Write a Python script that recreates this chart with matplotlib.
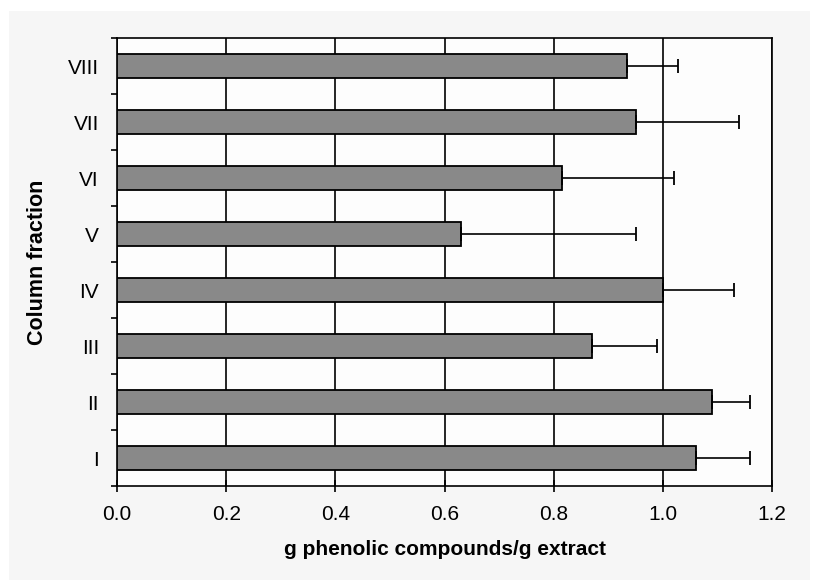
import matplotlib
matplotlib.use("Agg")
import matplotlib.pyplot as plt
from matplotlib import font_manager
from matplotlib.patches import Rectangle

categories = ["I", "II", "III", "IV", "V", "VI", "VII", "VIII"]
values = [1.06, 1.09, 0.87, 1.00, 0.63, 0.815, 0.95, 0.935]
err_upper = [0.10, 0.07, 0.12, 0.13, 0.32, 0.205, 0.19, 0.093]
xticks = [0.0, 0.2, 0.4, 0.6, 0.8, 1.0, 1.2]
xtick_labels = ["0.0", "0.2", "0.4", "0.6", "0.8", "1.0", "1.2"]

names = {f.name for f in font_manager.fontManager.ttflist}
fam = "Liberation Sans Narrow" if "Liberation Sans Narrow" in names else "Liberation Sans"

fig = plt.figure(figsize=(8.19, 5.86), dpi=100, facecolor="white")
fig.patches.append(Rectangle((9 / 819, 6 / 586), 801 / 819, 569 / 586,
                             transform=fig.transFigure, facecolor="#f6f6f6",
                             edgecolor="none", zorder=-10))
ax = fig.add_axes([117 / 819, 1 - 486 / 586, (772 - 117) / 819, (486 - 38) / 586])
ax.set_facecolor("#fdfdfd")

ypos = list(range(len(categories)))
ax.barh(ypos, values, height=0.42, color="#898989", edgecolor="black",
        linewidth=1.3, zorder=3)
ax.errorbar(values, ypos, xerr=[[0] * len(values), err_upper], fmt="none",
            ecolor="black", elinewidth=1.2, capsize=5, capthick=1.3, zorder=4)

ax.set_xlim(0, 1.2)
ax.set_ylim(-0.5, len(categories) - 0.5)
ax.set_xticks(xticks)
ax.set_xticklabels(xtick_labels, fontfamily=fam, fontsize=15)
ax.set_yticks(ypos)
ax.set_yticklabels(categories, fontfamily=fam, fontsize=15)
ax.set_yticks([y + 0.5 for y in range(-1, len(categories))], minor=True)

ax.tick_params(axis="y", which="major", length=0, pad=13)
ax.tick_params(axis="y", which="minor", length=4, width=1.2, direction="out")
ax.tick_params(axis="x", which="major", length=9, width=1.2, direction="inout", pad=9)

ax.xaxis.grid(True, color="black", linewidth=1.2, zorder=1)
ax.set_axisbelow(True)
for s in ax.spines.values():
    s.set_linewidth(1.2)
    s.set_color("black")

ax.set_xlabel("g phenolic compounds/g extract", fontfamily=fam, fontweight="bold",
              fontsize=15, labelpad=12)
ax.set_ylabel("Column fraction", fontfamily=fam, fontweight="bold",
              fontsize=15.5, va="center")
ax.yaxis.set_label_coords((38 - 117) / 655, 0.5)

fig.savefig("out.png", dpi=100, facecolor=fig.get_facecolor())
